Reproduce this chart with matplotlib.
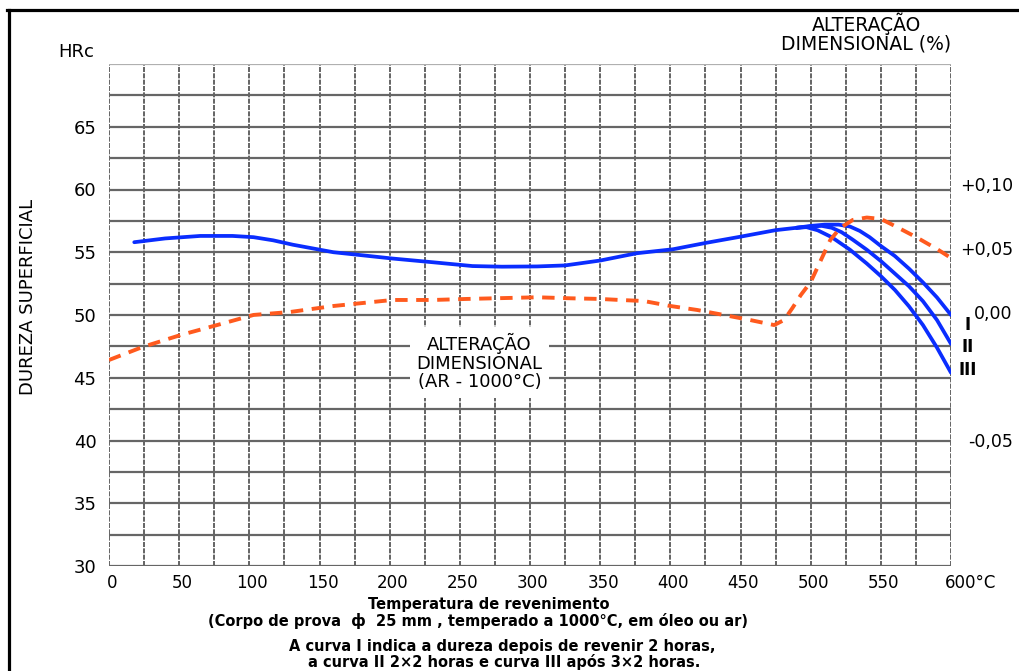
import matplotlib
matplotlib.use("Agg")
import matplotlib.pyplot as plt
from matplotlib.lines import Line2D
from matplotlib.transforms import ScaledTranslation
import numpy as np

plt.rcParams["font.family"] = ["DejaVu Sans"]

# ---- data -------------------------------------------------------------
# Tempering temperature (°C) vs surface hardness (HRc) - common trunk
temp_main = [18, 40, 65, 88, 103, 117, 131, 160, 177, 202, 231, 259, 280,
             305, 325, 350, 376, 402, 426, 450, 475, 490]
hrc_main = [55.8, 56.1, 56.3, 56.3, 56.2, 55.95, 55.6, 55.0, 54.8, 54.5,
            54.2, 53.9, 53.85, 53.87, 53.95, 54.34, 54.92, 55.24, 55.76,
            56.24, 56.76, 56.95]

# Curve I: 2 h tempering
temp_I = [490, 500, 510, 520, 528, 535, 542, 550, 560, 570, 580, 590, 600]
hrc_I = [56.95, 57.1, 57.2, 57.2, 57.05, 56.7, 56.2, 55.5, 54.7, 53.7,
         52.6, 51.4, 50.0]

# Curve II: 2x2 h tempering
temp_II = [490, 500, 508, 515, 522, 530, 540, 550, 560, 570, 580, 590, 600]
hrc_II = [56.95, 57.05, 57.1, 56.95, 56.6, 56.0, 55.2, 54.3, 53.3, 52.3,
          51.1, 49.6, 47.7]

# Curve III: 3x2 h tempering
temp_III = [490, 497, 505, 515, 528, 540, 550, 560, 570, 580, 590, 600]
hrc_III = [56.95, 57.0, 56.75, 56.2, 55.2, 54.1, 53.1, 52.0, 50.7, 49.2,
           47.4, 45.4]

# Dimensional change (%) - air hardened from 1000 °C
temp_dim = [0, 24, 51, 77, 103, 129, 160, 202, 231, 255, 305, 329, 350, 364,
            381, 400, 419, 438, 457, 474, 481, 487, 493, 500, 508, 514, 521,
            530, 540, 550, 560, 575, 590, 600]
pct_dim = [-0.0375, -0.0273, -0.018, -0.0102, -0.0023, 0.0, 0.0047, 0.0094,
           0.0094, 0.0102, 0.0115, 0.0107, 0.0102, 0.0094, 0.0086, 0.0047,
           0.0016, -0.0023, -0.0063, -0.0102, -0.0063, 0.0031, 0.0133,
           0.0234, 0.0422, 0.0563, 0.0656, 0.0719, 0.0738, 0.0727, 0.0672,
           0.0586, 0.0492, 0.0422]

x_ticks = [0, 50, 100, 150, 200, 250, 300, 350, 400, 450, 500, 550, 600]
x_labels = ["0", "50", "100", "150", "200", "250", "300", "350", "400",
            "450", "500", "550", "600°C"]
y_ticks = [30, 35, 40, 45, 50, 55, 60, 65, 70]
y_labels = ["30", "35", "40", "45", "50", "55", "60", "65", ""]
r_ticks = [0.10, 0.05, 0.00, -0.10]
r_labels = ["+0,10", "+0,05", "0,00", "-0,05"]

# ---- figure -----------------------------------------------------------
W, H = 1019, 671
fig = plt.figure(figsize=(W / 100, H / 100), dpi=100)
fig.patch.set_facecolor("white")


def fx(px):
    return px / W


def fy(py):
    return 1 - py / H


ax = fig.add_axes([fx(109), fy(566), (951 - 109) / W, (566 - 64) / H])
ax.set_xlim(0, 600)
ax.set_ylim(30, 70)

for s in ax.spines.values():
    s.set_visible(False)

ax.set_xticks(x_ticks)
ax.set_xticklabels(x_labels)
ax.set_xticks(np.arange(25, 600, 50), minor=True)
ax.set_yticks(y_ticks)
ax.set_yticklabels(y_labels)
ax.set_yticks(np.arange(32.5, 70, 5), minor=True)

ax.tick_params(axis="both", which="both", length=0)
ax.tick_params(axis="x", labelsize=12, pad=6)
ax.tick_params(axis="y", labelsize=13, pad=9)

ax.xaxis.grid(True, which="both", color="#4a4a4a", lw=1.2,
              linestyle=(0, (3, 0.8)))
ax.yaxis.grid(True, which="both", color="#666666", lw=1.6)
ax.get_ygridlines()[-1].set_color("#b0b0b0")
ax.set_axisbelow(True)

# nudge x tick labels to the right; the last one carries the unit
for i, lab in enumerate(ax.get_xticklabels()):
    if i == len(x_labels) - 1:
        lab.set_horizontalalignment("left")
        dx = -6 / 100
    else:
        dx = 3 / 100
    lab.set_transform(lab.get_transform() +
                      ScaledTranslation(dx, 0, fig.dpi_scale_trans))

blue = "#0a2dff"
ax.plot(temp_main, hrc_main, color=blue, lw=2.7, solid_capstyle="round",
        zorder=3)
ax.plot(temp_I, hrc_I, color=blue, lw=2.7, solid_capstyle="round", zorder=3)
ax.plot(temp_II, hrc_II, color=blue, lw=2.7, solid_capstyle="round", zorder=3)
ax.plot(temp_III, hrc_III, color=blue, lw=2.7, solid_capstyle="round",
        zorder=3)

for txt, yv in (("I", 49.2), ("II", 47.45), ("III", 45.6)):
    ax.text(612, yv, txt, fontsize=12, fontweight="bold", ha="center",
            va="center", clip_on=False)

ax.text(264, 46.25, "ALTERAÇÃO\nDIMENSIONAL\n(AR - 1000°C)", fontsize=13,
        ha="center", va="center", linespacing=1.05, zorder=4,
        bbox=dict(boxstyle="square,pad=0.35", fc="white", ec="none"))

# secondary scale for dimensional change
ax2 = ax.twinx()
ax2.set_ylim((312 - 566) / 1280, (312 - 64) / 1280)
for s in ax2.spines.values():
    s.set_visible(False)
ax2.set_yticks(r_ticks)
ax2.set_yticklabels(r_labels)
ax2.tick_params(axis="y", length=0, labelsize=12.5, pad=44.5)
for lab in ax2.get_yticklabels():
    lab.set_horizontalalignment("right")

ax2.plot(temp_dim, pct_dim, color="#ff5a1e", lw=2.8, dashes=(3.2, 2.2),
         zorder=3)

# ---- surrounding text --------------------------------------------------
fig.text(fx(76), fy(52), "HRc", fontsize=13, ha="center", va="center")
fig.text(fx(28), fy(297), "DUREZA SUPERFICIAL", fontsize=13, rotation=90,
         ha="center", va="center")
fig.text(fx(866), fy(24), "ALTERAÇÃO", fontsize=13.5, ha="center",
         va="center")
fig.text(fx(866), fy(44), "DIMENSIONAL (%)", fontsize=13.5, ha="center",
         va="center")

fig.text(fx(489), fy(604), "Temperatura de revenimento", fontsize=10.5,
         fontweight="bold", ha="center", va="center")
fig.text(fx(478), fy(621),
         "(Corpo de prova  ф  25 mm , temperado a 1000°C, em óleo ou ar)",
         fontsize=10.5, fontweight="bold", ha="center", va="center")
fig.text(fx(502), fy(646),
         "A curva I indica a dureza depois de revenir 2 horas,",
         fontsize=10.5, fontweight="bold", ha="center", va="center")
fig.text(fx(504), fy(662),
         "a curva II 2×2 horas e curva III após 3×2 horas.",
         fontsize=10.5, fontweight="bold", ha="center", va="center")

# black frame edges (top and left)
fig.add_artist(Line2D([fx(7), 1], [fy(10), fy(10)], color="black", lw=2.3))
fig.add_artist(Line2D([fx(9), fx(9)], [fy(10), 0], color="black", lw=2.3))

fig.savefig("out.png", dpi=100, facecolor="white")
